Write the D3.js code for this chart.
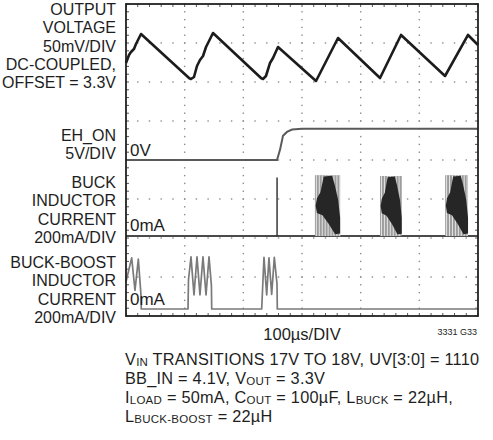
<!DOCTYPE html>
<html>
<head>
<meta charset="utf-8">
<script src="https://cdn.jsdelivr.net/npm/d3@7"></script>
<style>
  html, body { margin: 0; padding: 0; background: #fff; }
  svg { display: block; }
  text { font-family: "Liberation Sans", Arial, sans-serif; fill: #1e1e1e; }
</style>
</head>
<body>
<svg id="chart" width="493" height="440"></svg>
<script>
// ---- scope grid: 100µs per division, 6 across, 8 down ----
const timeTicks = [0, 100, 200, 300, 400, 500, 600];   // µs
const divTicks = [0, 1, 2, 3, 4, 5, 6, 7, 8];          // vertical divisions

// ---- output voltage ripple (mV above channel reference) ----
const vOutTime = [0, 5.1, 8.5, 13.6, 17.0, 25.6, 107.4, 110.8, 115.9, 121.0, 126.1, 131.3, 136.4, 148.3,
                  230.1, 233.5, 238.6, 245.5, 250.6, 259.1, 323.9, 361.4, 433.0, 468.8, 543.8, 583.0, 600];
const vOutMv   = [24.4, 34.6, 38.5, 42.3, 48.7, 61.5, 5.1, 3.8, 6.4, 20.5, 28.2, 33.3, 44.9, 62.8,
                  5.1, 3.8, 7.7, 24.4, 30.8, 44.9, 1.3, 56.4, 5.1, 60.3, 7.7, 60.3, 47.4];

// ---- EH_ON (V) ----
const ehOnTime  = [0, 257.4, 262.5, 267.6, 274.4, 283, 300, 600];
const ehOnVolts = [0, 0, 1.3, 3.1, 3.6, 3.9, 4.0, 4.0];

// ---- buck inductor current (mA) ----
const buckSpikeTime = 257.5;
const buckSpikeMa = 300;
const buckBurstStart = [322, 433, 544];
const buckBurstEnd   = [365, 470, 583];
const buckBurstPeakMa = [312, 308, 312];

// ---- buck-boost inductor current (mA) ----
const bbTime = [0, 9.7, 15.3, 21.0, 25.6, 26.0,
                105.7, 106.5, 110.8, 115.9, 121.0, 126.1, 131.2, 136.4, 141.5, 145.6, 146.1,
                231.3, 235.2, 239.8, 243.7, 248.3, 252.8, 257.4, 257.9, 600];
const bbMa   = [140, 262, 95, 256, 70, 0,
                0, 150, 267, 72, 267, 72, 267, 72, 267, 120, 0,
                0, 265, 72, 262, 75, 265, 130, 0, 0];

// ---- labels ----
const channelLabels = [
  { lines: ["OUTPUT", "VOLTAGE", "50mV/DIV", "DC-COUPLED,", "OFFSET = 3.3V"], y0: 15 },
  { lines: ["EH_ON", "5V/DIV"], y0: 141 },
  { lines: ["BUCK", "INDUCTOR", "CURRENT", "200mA/DIV"], y0: 188 },
  { lines: ["BUCK-BOOST", "INDUCTOR", "CURRENT", "200mA/DIV"], y0: 268 }
];
const zeroLabels = ["0V", "0mA", "0mA"];
const timeLabel = "100µs/DIV";
const figureId = "3331 G33";
const noteLines = [
  [["V", 0], ["IN", 1], [" TRANSITIONS 17V TO 18V, UV[3:0] = 1110", 0]],
  [["BB_IN = 4.1V, V", 0], ["OUT", 1], [" = 3.3V", 0]],
  [["I", 0], ["LOAD", 1], [" = 50mA, C", 0], ["OUT", 1], [" = 100µF, L", 0], ["BUCK", 1], [" = 22µH,", 0]],
  [["L", 0], ["BUCK-BOOST", 1], [" = 22µH", 0]]
];

// ---- layout ----
const plot = { left: 126, right: 478, top: 4, bottom: 316 };
const svg = d3.select("#chart");

const x = d3.scaleLinear().domain([timeTicks[0], timeTicks[timeTicks.length - 1]]).range([plot.left, plot.right]);
const y = d3.scaleLinear().domain([divTicks[0], divTicks[divTicks.length - 1]]).range([plot.bottom, plot.top]);

// each channel: reference position (div) and units per division
const channels = {
  vout: { ref: 6, perDiv: 50 },
  ehon: { ref: 4, perDiv: 5 },
  buck: { ref: 2.05, perDiv: 200 },
  bb:   { ref: 0.18, perDiv: 200 }
};
const yCh = (ch, v) => y(channels[ch].ref + v / channels[ch].perDiv);

// ---- grid: dotted division lines, 5 dots per division ----
const grid = svg.append("g").attr("fill", "#8c8c8c");
const subT = d3.range(0, 6 * 5 + 1).map(i => i * 20);
const subD = d3.range(0, 8 * 5 + 1).map(i => i / 5);
timeTicks.slice(1, -1).forEach(t => {
  subD.forEach(d => grid.append("rect").attr("x", x(t) - 0.7).attr("y", y(d) - 0.7).attr("width", 1.4).attr("height", 1.4));
});
divTicks.slice(1, -1).forEach(d => {
  subT.forEach(t => grid.append("rect").attr("x", x(t) - 0.7).attr("y", y(d) - 0.7).attr("width", 1.4).attr("height", 1.4));
});

// frame ticks along all four edges
const ticks = svg.append("g").attr("stroke", "#555").attr("stroke-width", 1);
subT.forEach(t => {
  ticks.append("line").attr("x1", x(t)).attr("x2", x(t)).attr("y1", plot.top).attr("y2", plot.top + 3);
  ticks.append("line").attr("x1", x(t)).attr("x2", x(t)).attr("y1", plot.bottom).attr("y2", plot.bottom - 3);
});
subD.forEach(d => {
  ticks.append("line").attr("y1", y(d)).attr("y2", y(d)).attr("x1", plot.left).attr("x2", plot.left + 3);
  ticks.append("line").attr("y1", y(d)).attr("y2", y(d)).attr("x1", plot.right).attr("x2", plot.right - 3);
});

// ---- traces ----
const line = d3.line();

// EH_ON
svg.append("path")
  .attr("d", line(ehOnTime.map((t, i) => [x(t), yCh("ehon", ehOnVolts[i])])))
  .attr("fill", "none").attr("stroke", "#5a5a5a").attr("stroke-width", 2);

// buck-boost inductor current
svg.append("path")
  .attr("d", line(bbTime.map((t, i) => [x(t), yCh("bb", bbMa[i])])))
  .attr("fill", "none").attr("stroke", "#7a7a7a").attr("stroke-width", 1.7).attr("stroke-linejoin", "round");

// buck inductor current: baseline, turn-on spike and switching bursts
svg.append("path")
  .attr("d", line([[x(0), yCh("buck", 0)], [x(600), yCh("buck", 0)]]))
  .attr("stroke", "#4a4a4a").attr("stroke-width", 2);
svg.append("line")
  .attr("x1", x(buckSpikeTime)).attr("x2", x(buckSpikeTime))
  .attr("y1", yCh("buck", 0)).attr("y2", yCh("buck", buckSpikeMa))
  .attr("stroke", "#2a2a2a").attr("stroke-width", 1.4);

// persistence envelope of a burst, as fractions of burst width (u) and height (v)
const burstCore = [[.35, .98], [.68, .99], [.78, .85], [.92, .6], [1.0, .3], [1.0, .04], [.8, .03],
                   [.55, .2], [.3, .34], [.08, .38], [.03, .5], [.08, .62], [.22, .72]];
const switchPeriod = 5; // µs between switching cycles

buckBurstStart.forEach((t0, i) => {
  const t1 = buckBurstEnd[i], pk = buckBurstPeakMa[i];
  const g = svg.append("g");
  g.append("rect")
    .attr("x", x(t0)).attr("y", yCh("buck", pk))
    .attr("width", x(t1) - x(t0)).attr("height", yCh("buck", 0) - yCh("buck", pk))
    .attr("fill", "#9c9c9c");
  d3.range(t0 + switchPeriod / 2, t1, switchPeriod).forEach(t => {
    g.append("line").attr("x1", x(t)).attr("x2", x(t))
      .attr("y1", yCh("buck", pk)).attr("y2", yCh("buck", 0))
      .attr("stroke", "#ececec").attr("stroke-width", 0.9);
  });
  g.append("path")
    .attr("d", line(burstCore.map(([u, v]) => [x(t0 + u * (t1 - t0)), yCh("buck", v * pk)])) + "Z")
    .attr("fill", "#262626");
});

// output voltage
svg.append("path")
  .attr("d", line(vOutTime.map((t, i) => [x(t), yCh("vout", vOutMv[i])])))
  .attr("fill", "none").attr("stroke", "#1c1c1c").attr("stroke-width", 2.6).attr("stroke-linejoin", "round");

// frame
svg.append("rect")
  .attr("x", plot.left).attr("y", plot.top)
  .attr("width", plot.right - plot.left).attr("height", plot.bottom - plot.top)
  .attr("fill", "none").attr("stroke", "#222").attr("stroke-width", 1.8);

// ---- text ----
const zeroY = [yCh("ehon", 0) - 4, yCh("buck", 0) - 5, yCh("bb", 0) - 4];
zeroLabels.forEach((s, i) => {
  svg.append("text").attr("x", plot.left + 4).attr("y", zeroY[i]).attr("font-size", 17).text(s);
});

channelLabels.forEach(c => {
  c.lines.forEach((s, j) => {
    svg.append("text").attr("x", 116).attr("y", c.y0 + j * 18.3)
      .attr("text-anchor", "end").attr("font-size", 16).text(s);
  });
});

svg.append("text").attr("x", (plot.left + plot.right) / 2).attr("y", 340)
  .attr("text-anchor", "middle").attr("font-size", 16.5).text(timeLabel);
svg.append("text").attr("x", 477).attr("y", 335)
  .attr("text-anchor", "end").attr("font-size", 9).text(figureId);

const noteBase = [364.5, 383.5, 402.5, 421.5];
noteLines.forEach((segs, i) => {
  const t = svg.append("text").attr("x", 125).attr("y", noteBase[i])
    .attr("font-size", 16.3).attr("letter-spacing", 0.25);
  let shifted = false;
  segs.forEach(([s, sub]) => {
    const sp = t.append("tspan").text(s);
    if (sub && !shifted) { sp.attr("dy", 1.5).attr("font-size", 11.5); shifted = true; }
    else if (sub) { sp.attr("font-size", 11.5); }
    else if (shifted) { sp.attr("dy", -1.5); shifted = false; }
  });
});
</script>
</body>
</html>
